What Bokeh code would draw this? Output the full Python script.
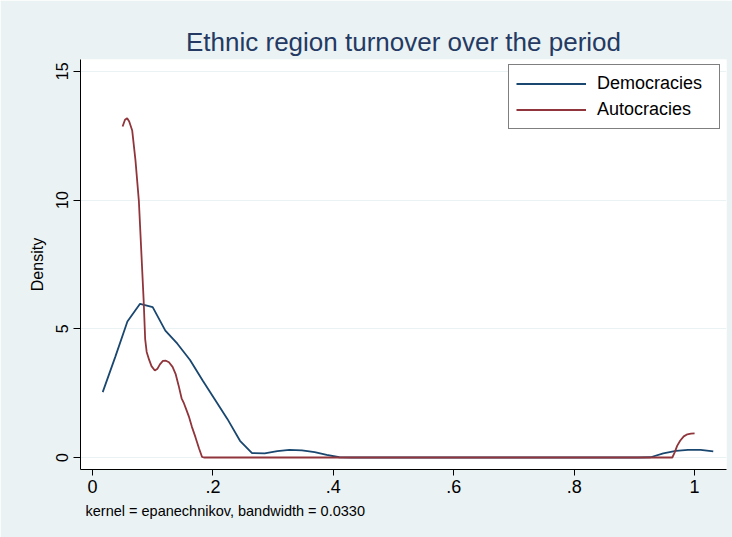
from bokeh.plotting import figure
from bokeh.models import FixedTicker, Title, Legend, LegendItem
from bokeh.embed import file_html
from bokeh.resources import INLINE

# ---- data ----
dem_x = [0.017, 0.038, 0.058, 0.079, 0.100, 0.121, 0.141, 0.162, 0.183, 0.203,
         0.224, 0.245, 0.265, 0.286, 0.307, 0.327, 0.348, 0.369, 0.389, 0.410,
         0.431, 0.452, 0.472, 0.493, 0.514, 0.534, 0.555, 0.576, 0.596, 0.617,
         0.638, 0.658, 0.679, 0.700, 0.720, 0.741, 0.762, 0.782, 0.803, 0.824,
         0.844, 0.865, 0.886, 0.907, 0.927, 0.948, 0.969, 0.989, 1.010, 1.031]
dem_y = [2.54, 3.92, 5.28, 5.97, 5.84, 4.93, 4.42, 3.79, 2.99, 2.26,
         1.50, 0.65, 0.17, 0.16, 0.25, 0.30, 0.28, 0.21, 0.10, 0.01,
         0.0, 0.0, 0.0, 0.0, 0.0, 0.0, 0.0, 0.0, 0.0, 0.0,
         0.0, 0.0, 0.0, 0.0, 0.0, 0.0, 0.0, 0.0, 0.0, 0.0,
         0.0, 0.0, 0.0, 0.0, 0.01, 0.16, 0.26, 0.30, 0.30, 0.24]

aut_x = [0.050, 0.054, 0.0576, 0.061, 0.066, 0.0714, 0.077, 0.081, 0.085, 0.0875,
         0.090, 0.094, 0.098, 0.1035, 0.108, 0.112, 0.117, 0.122, 0.127, 0.133,
         0.138, 0.143, 0.148, 0.152, 0.156, 0.160, 0.165, 0.171, 0.177, 0.182,
         0.185, 0.30, 0.45, 0.60, 0.75, 0.90, 0.963, 0.967, 0.971, 0.976,
         0.982, 0.988, 0.994, 1.000]
aut_y = [12.86, 13.12, 13.18, 13.05, 12.70, 11.54, 9.98, 8.04, 6.10, 4.60,
         4.10, 3.80, 3.55, 3.38, 3.45, 3.62, 3.75, 3.76, 3.70, 3.52,
         3.25, 2.80, 2.30, 2.10, 1.85, 1.60, 1.20, 0.79, 0.35, 0.02,
         0.0, 0.0, 0.0, 0.0, 0.0, 0.0, 0.0, 0.20, 0.45, 0.65,
         0.82, 0.90, 0.93, 0.94]

x_ticks = [0, 0.2, 0.4, 0.6, 0.8, 1]
x_tick_labels = ["0", ".2", ".4", ".6", ".8", "1"]
y_ticks = [0, 5, 10, 15]
y_tick_labels = ["0", "5", "10", "15"]

series_names = ["Democracies", "Autocracies"]
title_text = "Ethnic region turnover over the period"
note_text = "kernel = epanechnikov, bandwidth = 0.0330"
y_label = "Density"

FONT = "Liberation Sans"
BG = "#eaf2f3"
BLUE = "#1a476f"
RED = "#90353b"

p = figure(width=732, height=537, x_range=(-0.0199, 1.053), y_range=(-0.466, 15.46),
           output_backend="svg", toolbar_location=None,
           min_border_left=80, min_border_right=6, min_border_top=59, min_border_bottom=68)

p.border_fill_color = BG
p.background_fill_color = "white"
p.outline_line_color = None

# title
p.title.text = title_text
p.title.align = "center"
p.title.text_font = FONT
p.title.text_font_size = "26px"
p.title.text_font_style = "normal"
p.title.text_color = "#243a63"
p.title.standoff = 5

# note below
note = Title(text=note_text, align="left", text_font=FONT, text_font_size="14.5px",
             text_font_style="normal", text_color="black", offset=5, standoff=10)
p.add_layout(note, "below")

# grid
p.xgrid.visible = False
p.ygrid.ticker = FixedTicker(ticks=y_ticks)
p.ygrid.grid_line_color = BG
p.ygrid.grid_line_width = 1.2

# axes
xa = p.xaxis[0]
xa.ticker = FixedTicker(ticks=x_ticks)
xa.major_label_overrides = {t: l for t, l in zip(x_ticks, x_tick_labels)}
xa.minor_tick_line_color = None
xa.major_tick_in = 0
xa.major_tick_out = 6
xa.major_label_standoff = 4
xa.major_label_text_font = FONT
xa.major_label_text_font_size = "18px"
xa.major_label_text_color = "black"
xa.axis_line_color = "black"
xa.major_tick_line_color = "black"

ya = p.yaxis[0]
ya.ticker = FixedTicker(ticks=y_ticks)
ya.major_label_overrides = {t: l for t, l in zip(y_ticks, y_tick_labels)}
ya.minor_tick_line_color = None
ya.major_tick_in = 0
ya.major_tick_out = 7
ya.major_label_standoff = 5
ya.major_label_orientation = "vertical"
ya.major_label_text_font = FONT
ya.major_label_text_font_size = "16px"
ya.major_label_text_color = "black"
ya.axis_line_color = "black"
ya.major_tick_line_color = "black"
ya.axis_label = y_label
ya.axis_label_text_font = FONT
ya.axis_label_text_font_size = "16px"
ya.axis_label_text_font_style = "normal"
ya.axis_label_text_color = "black"
ya.axis_label_standoff = 8

# lines
r_dem = p.line(dem_x, dem_y, line_color=BLUE, line_width=1.8)
r_aut = p.line(aut_x, aut_y, line_color=RED, line_width=1.8)

legend = Legend(items=[LegendItem(label=series_names[0], renderers=[r_dem]),
                       LegendItem(label=series_names[1], renderers=[r_aut])],
                location=(428, 340))
legend.label_text_font = FONT
legend.label_text_font_size = "18px"
legend.label_text_color = "black"
legend.glyph_width = 70
legend.glyph_height = 23
legend.label_height = 23
legend.label_width = 115
legend.label_standoff = 11
legend.spacing = 3
legend.padding = 7
legend.margin = 0
legend.border_line_color = "black"
legend.border_line_width = 1
legend.background_fill_color = "white"
legend.background_fill_alpha = 1.0
p.add_layout(legend, "center")

open("out.html", "w").write(file_html(p, INLINE))
